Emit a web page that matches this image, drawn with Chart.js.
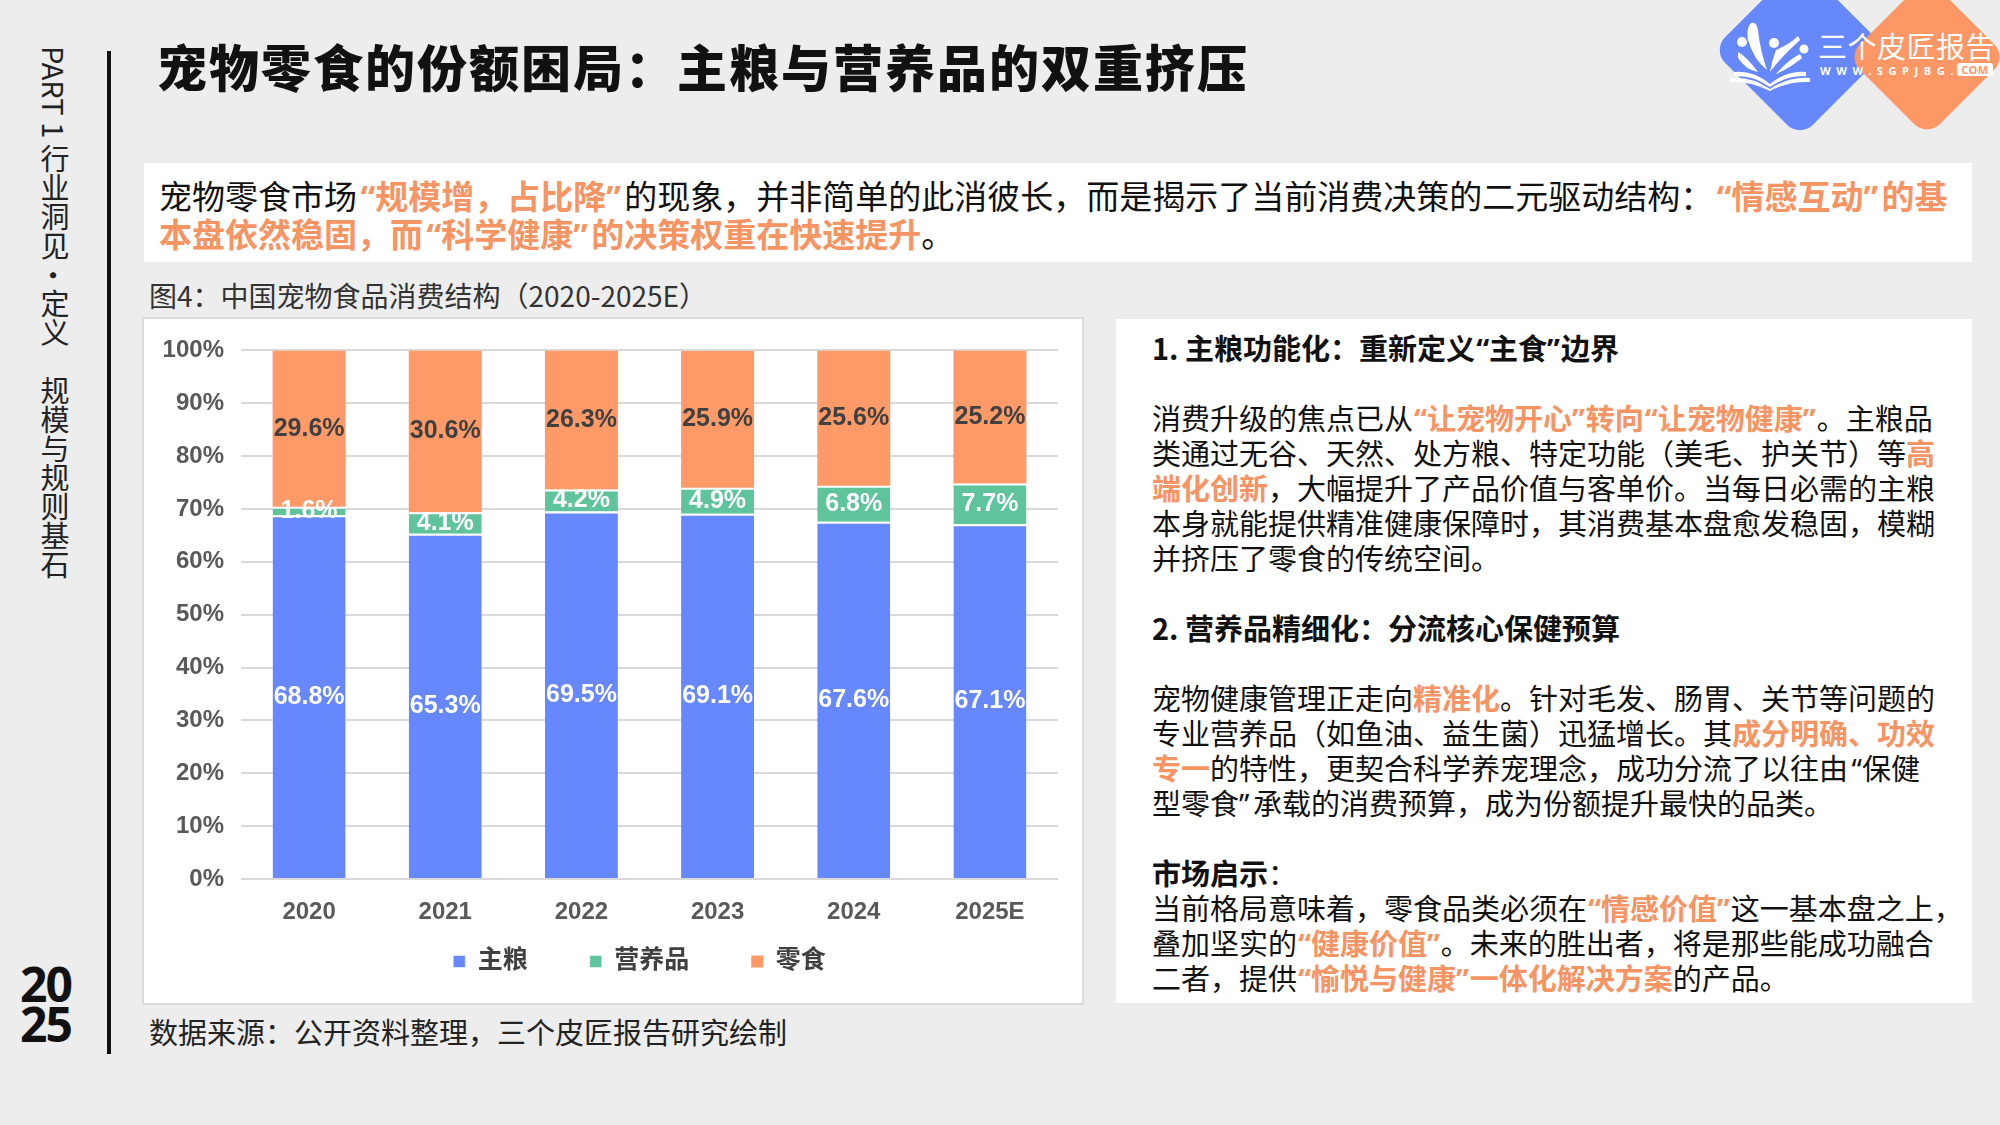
<!DOCTYPE html>
<html><head><meta charset="utf-8">
<script src="https://cdn.jsdelivr.net/npm/chart.js@4.4.1/dist/chart.umd.min.js"></script>
<style>
html,body{margin:0;padding:0;}
body{width:2000px;height:1125px;background:#EDEDED;position:relative;overflow:hidden;font-family:"Noto Sans CJK SC","Noto Sans",sans-serif;color:#111;}
.abs{position:absolute;}
#vbar{left:107px;top:51px;width:4px;height:1003px;background:#111;}
#side{left:37px;top:46px;writing-mode:vertical-rl;font-size:29px;line-height:36px;color:#222;white-space:nowrap;}
#year{left:20px;top:964px;font-family:"Noto Sans",sans-serif;font-weight:700;font-size:48px;line-height:40px;letter-spacing:-2px;color:#111;}
#title{left:157px;top:35px;font-size:50px;font-weight:900;letter-spacing:2px;line-height:60px;white-space:nowrap;color:#111;}
#intro{left:144px;top:163px;width:1828px;height:99px;background:#fff;}
.line{position:absolute;white-space:nowrap;}
.or{color:#F79463;font-weight:700;}
.ql,.qr{display:inline-block;font-family:"Noto Sans",sans-serif;}
.ql{text-align:right;}
.qr{text-align:left;}
#intro .ql,#intro .qr{width:0.55em;}
#textBox .ql,#textBox .qr{width:0.48em;}
#intro .line{left:15px;font-size:33px;line-height:38px;color:#111;}
#caption{left:149px;top:280px;font-size:28px;line-height:30px;color:#333;white-space:nowrap;}
#chartBox{left:144px;top:319px;width:938px;height:684px;background:#fff;box-shadow:0 0 0 2px #DCDCDC;}
#chartCanvas{position:absolute;left:144px;top:319px;}
#textBox{left:1116px;top:319px;width:856px;height:684px;background:#fff;}
#textBox .line{left:36px;font-size:29px;line-height:35px;color:#111;}
#textBox .h{font-weight:700;}
#logo{left:1650px;top:0px;}
#source{left:149px;top:1014px;font-size:29px;line-height:34px;color:#222;white-space:nowrap;}
</style>
</head>
<body>
<div id="vbar" class="abs"></div>
<div id="side" class="abs">PART 1 行业洞见·定义　规模与规则基石</div>
<div id="year" class="abs">20<br>25</div>
<div id="title" class="abs">宠物零食的份额困局：主粮与营养品的双重挤压</div>

<svg id="logo" class="abs" width="350" height="150" viewBox="0 0 350 150">
  <rect x="88" y="-12" width="124" height="124" rx="18" fill="#6688FB" transform="rotate(45 150 50)"/>
  <rect x="220.5" y="0.5" width="113" height="113" rx="18" fill="#FD9866" transform="rotate(45 277 57)"/>
  <g fill="#fff">
    <circle cx="92" cy="42" r="5"/>
    <circle cx="124" cy="43" r="5"/>
    <circle cx="154" cy="49" r="4.5"/>
    <path d="M100 24 Q106 20 108 30 Q110 50 117 70 Q104 60 98 40 Q96 30 100 24 Z"/>
    <path d="M88 52 Q96 56 108 72 Q96 70 88 58 Z"/>
    <path d="M148 36 Q140 44 126 50 Q122 60 120 72 Q132 56 150 40 Z"/>
    <path d="M150 54 Q138 60 126 74 Q140 68 152 58 Z"/>
    <path d="M84 72 Q103 70 120 84 L120 87 Q103 75 84 76 Z"/>
    <path d="M156 72 Q137 70 120 84 L120 87 Q137 75 156 76 Z"/>
    <path d="M80 78 Q101 76 120 89 L120 91 Q101 81 80 82 Z"/>
    <path d="M160 78 Q139 76 120 89 L120 91 Q139 81 160 82 Z"/>
  </g>
  <text x="168" y="58" font-family="Noto Sans CJK SC" font-size="29" fill="#fff" letter-spacing="0.5">三个皮匠报告</text>
  <text x="170" y="75" font-family="Noto Sans, sans-serif" font-size="11" font-weight="700" fill="#fff" letter-spacing="5.6">WWW.SGPJBG.</text>
  <rect x="307" y="63" width="36" height="13" rx="3" fill="#fff"/>
  <text x="325" y="74" text-anchor="middle" font-family="Noto Sans, sans-serif" font-size="11" font-weight="700" fill="#FD9866" letter-spacing="0.5">COM</text>
</svg>

<div id="intro" class="abs">
  <div class="line" style="top:13px">宠物零食市场<span class="or">“规模增，占比降”</span>的现象，并非简单的此消彼长，而是揭示了当前消费决策的二元驱动结构：<span class="or">“情感互动”的基</span></div>
  <div class="line" style="top:51px"><span class="or">本盘依然稳固，而“科学健康”的决策权重在快速提升</span>。</div>
</div>

<div id="caption" class="abs">图4：中国宠物食品消费结构（2020-2025E）</div>

<div id="chartBox" class="abs"></div>
<canvas id="chartCanvas" width="938" height="684"></canvas>

<div id="textBox" class="abs">
  <div class="line h" style="top:10.5px">1. 主粮功能化：重新定义“主食”边界</div>
  <div class="line" style="top:80.5px">消费升级的焦点已从<span class="or">“让宠物开心”转向“让宠物健康”</span>。主粮品</div>
  <div class="line" style="top:115.5px">类通过无谷、天然、处方粮、特定功能（美毛、护关节）等<span class="or">高</span></div>
  <div class="line" style="top:150.5px"><span class="or">端化创新</span>，大幅提升了产品价值与客单价。当每日必需的主粮</div>
  <div class="line" style="top:185.5px">本身就能提供精准健康保障时，其消费基本盘愈发稳固，模糊</div>
  <div class="line" style="top:220.5px">并挤压了零食的传统空间。</div>
  <div class="line h" style="top:290.5px">2. 营养品精细化：分流核心保健预算</div>
  <div class="line" style="top:360.5px">宠物健康管理正走向<span class="or">精准化</span>。针对毛发、肠胃、关节等问题的</div>
  <div class="line" style="top:395.5px">专业营养品（如鱼油、益生菌）迅猛增长。其<span class="or">成分明确、功效</span></div>
  <div class="line" style="top:430.5px"><span class="or">专一</span>的特性，更契合科学养宠理念，成功分流了以往由“保健</div>
  <div class="line" style="top:465.5px">型零食”承载的消费预算，成为份额提升最快的品类。</div>
  <div class="line" style="top:535.5px"><b>市场启示</b>：</div>
  <div class="line" style="top:570.5px">当前格局意味着，零食品类必须在<span class="or">“情感价值”</span>这一基本盘之上，</div>
  <div class="line" style="top:605.5px">叠加坚实的<span class="or">“健康价值”</span>。未来的胜出者，将是那些能成功融合</div>
  <div class="line" style="top:640.5px">二者，提供<span class="or">“愉悦与健康”一体化解决方案</span>的产品。</div>
</div>

<div id="source" class="abs">数据来源：公开资料整理，三个皮匠报告研究绘制</div>

<script>
// ---- data ----
const categories = ['2020', '2021', '2022', '2023', '2024', '2025E'];
const seriesNames = ['主粮', '营养品', '零食'];
const stapleFood = [68.8, 65.3, 69.5, 69.1, 67.6, 67.1];
const supplements = [1.6, 4.1, 4.2, 4.9, 6.8, 7.7];
const snacks = [29.6, 30.6, 26.3, 25.9, 25.6, 25.2];
const yTickStep = 10;
const yMax = 100;

// proportional-width curly quotes (as in the original typesetting)
document.querySelectorAll('.line').forEach(el => {
  el.innerHTML = el.innerHTML.replace(/“/g, '<span class="ql">“</span>').replace(/”/g, '<span class="qr">”</span>');
});

// ---- styles ----
const seriesColors = ['#6787FC', '#5FC39B', '#FD9A68'];
const labelColors = ['#FFFFFF', '#FFFFFF', '#404040'];
const separatorTop = [2, 2, 0];
const FONT = "'Liberation Sans', Arial, 'Noto Sans CJK SC', sans-serif";
const LEGEND_SHIFT_X = -10;
const LEGEND_SHIFT_Y = -41;

const segLabels = {
  id: 'segLabels',
  afterDatasetsDraw(chart) {
    const ctx = chart.ctx;
    chart.data.datasets.forEach((ds, di) => {
      const meta = chart.getDatasetMeta(di);
      meta.data.forEach((el, i) => {
        const v = ds.data[i];
        const yc = (el.y + el.base) / 2;
        ctx.save();
        ctx.font = 'bold 25px ' + FONT;
        ctx.fillStyle = labelColors[di];
        ctx.textAlign = 'center';
        ctx.textBaseline = 'middle';
        ctx.fillText(v.toFixed(1) + '%', el.x, yc);
        ctx.restore();
      });
    });
  }
};

const legendOffset = {
  id: 'legendOffset',
  afterLayout(chart) {
    const lg = chart.legend;
    if (lg) {
      lg.left += LEGEND_SHIFT_X; lg.right += LEGEND_SHIFT_X;
      lg.top += LEGEND_SHIFT_Y;
      lg.height = lg.bottom - lg.top;
    }
  }
};

const seriesData = [stapleFood, supplements, snacks];
const datasets = seriesNames.map((name, i) => ({
  label: name,
  data: seriesData[i],
  backgroundColor: seriesColors[i],
  borderColor: '#FFFFFF',
  borderWidth: {top: separatorTop[i], left: 0, right: 0, bottom: 0},
  borderSkipped: false,
  barPercentage: 0.536,
  categoryPercentage: 1.0
}));

new Chart(document.getElementById('chartCanvas'), {
  type: 'bar',
  data: { labels: categories, datasets },
  options: {
    responsive: false,
    animation: false,
    devicePixelRatio: 1,
    layout: { padding: { top: 26, right: 24, bottom: 0, left: 0 } },
    plugins: {
      tooltip: { enabled: false },
      legend: {
        position: 'bottom',
        fullSize: false,
        maxHeight: 75,
        labels: {
          boxWidth: 12, boxHeight: 12, padding: 62,
          color: '#404040',
          font: { size: 25, weight: 'bold', family: FONT }
        }
      }
    },
    scales: {
      x: {
        stacked: true,
        grid: { display: false, drawTicks: false },
        border: { display: false },
        ticks: { color: '#595959', padding: 19, font: { size: 24, weight: 'bold', family: FONT } },
        afterFit(s) { s.height = 49; }
      },
      y: {
        stacked: true,
        min: 0, max: yMax,
        grid: { color: '#D9D9D9', lineWidth: 2, drawTicks: false },
        border: { display: false },
        ticks: {
          stepSize: yTickStep,
          padding: 17,
          color: '#595959',
          font: { size: 24, weight: 'bold', family: FONT },
          callback: v => v + '%'
        },
        afterFit(s) { s.width = 97; }
      }
    }
  },
  plugins: [segLabels, legendOffset]
});
</script>
</body></html>
